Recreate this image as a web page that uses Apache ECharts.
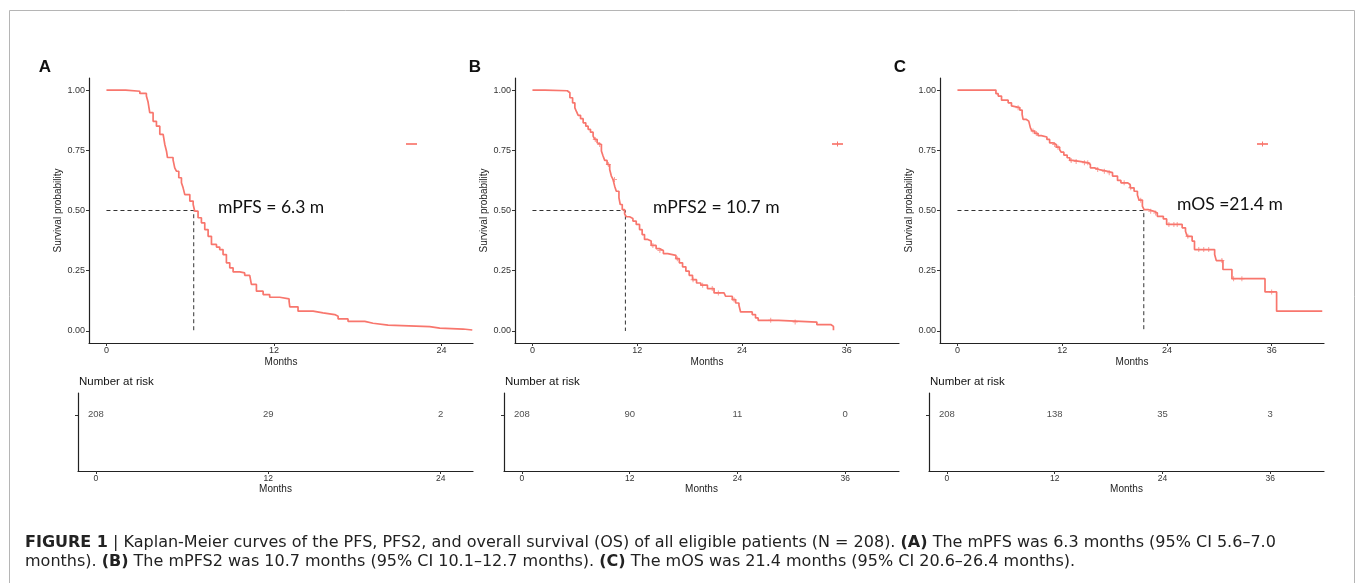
<!DOCTYPE html>
<html>
<head>
<meta charset="utf-8">
<title>Kaplan-Meier</title>
<style>
  html, body { margin: 0; padding: 0; background: #fff; }
  #main { width: 1357px; height: 583px; }
</style>
</head>
<body>
<div id="main"></div>
<script src="https://cdn.jsdelivr.net/npm/echarts@6/dist/echarts.min.js"></script>
<script>
// survival curves: [months, survival probability]
var kmA = [
  [0, 1], [1.38, 0.995], [2.39, 0.986], [2.86, 0.975], [2.98, 0.95], [3.05, 0.925], [3.10, 0.906],
  [3.34, 0.87], [3.58, 0.85], [3.82, 0.816], [4.06, 0.81], [4.18, 0.774], [4.30, 0.746], [4.37, 0.72],
  [4.77, 0.71], [4.89, 0.677], [5.01, 0.663], [5.18, 0.636], [5.37, 0.615], [5.49, 0.594], [5.61, 0.566],
  [5.97, 0.539], [6.21, 0.525], [6.32, 0.497], [6.56, 0.47], [6.80, 0.449], [7.04, 0.421], [7.28, 0.393],
  [7.52, 0.359], [7.88, 0.348], [8.11, 0.338], [8.35, 0.317], [8.59, 0.283], [8.83, 0.262], [9.07, 0.245],
  [9.55, 0.241], [9.90, 0.231], [10.26, 0.227], [10.38, 0.193], [10.74, 0.165], [11.22, 0.151],
  [11.69, 0.140], [12.41, 0.133], [13.08, 0.123], [13.13, 0.10], [13.72, 0.082], [14.80, 0.075],
  [15.51, 0.068], [16.35, 0.061], [16.59, 0.05], [17.30, 0.04], [18.50, 0.032], [19.09, 0.024],
  [20.17, 0.018], [23.15, 0.012], [23.87, 0.008], [25.54, 0.004], [26.2, 0.004]
];
var kmB = [
  [0, 1], [1.44, 0.997], [3.99, 0.989], [4.29, 0.968], [4.60, 0.947], [4.86, 0.926], [5.05, 0.91],
  [5.24, 0.895], [5.51, 0.881], [5.81, 0.864], [6.11, 0.85], [6.38, 0.837], [6.65, 0.825], [6.95, 0.809],
  [7.14, 0.795], [7.41, 0.781], [7.63, 0.774], [7.90, 0.747], [8.09, 0.726], [8.28, 0.708], [8.55, 0.691],
  [8.85, 0.67], [9.04, 0.643], [9.23, 0.629], [9.42, 0.601], [9.61, 0.58], [9.91, 0.553], [10.06, 0.525],
  [10.29, 0.504], [10.56, 0.486], [10.75, 0.474], [11.13, 0.467], [11.51, 0.456], [11.89, 0.442],
  [12.27, 0.421], [12.57, 0.4], [12.84, 0.38], [13.22, 0.373], [13.60, 0.355], [14.17, 0.342],
  [14.55, 0.334], [15.00, 0.321], [15.50, 0.314], [16.44, 0.3], [16.83, 0.283], [17.20, 0.266],
  [17.58, 0.248], [17.96, 0.231], [18.34, 0.213], [18.80, 0.199], [19.29, 0.19], [20.05, 0.176],
  [20.81, 0.158], [21.95, 0.154], [22.14, 0.144], [22.90, 0.13], [23.28, 0.116], [23.66, 0.107],
  [23.85, 0.079], [25.18, 0.068], [25.56, 0.054], [25.86, 0.044], [28.22, 0.037], [32.59, 0.026],
  [34.22, 0.019], [34.49, 0.003]
];
var kmC = [
  [0, 1], [4.41, 0.985], [4.67, 0.975], [5.05, 0.958], [5.81, 0.947], [6.19, 0.934], [6.38, 0.927],
  [7.14, 0.917], [7.41, 0.899], [7.52, 0.878], [7.90, 0.871], [8.17, 0.864], [8.36, 0.843], [8.55, 0.83],
  [8.85, 0.82], [9.23, 0.811], [9.61, 0.805], [10.25, 0.795], [10.56, 0.781], [10.94, 0.774],
  [11.32, 0.763], [11.70, 0.753], [11.89, 0.742], [12.19, 0.73], [12.57, 0.719], [12.87, 0.708],
  [13.22, 0.703], [14.17, 0.698], [15.00, 0.691], [15.23, 0.677], [15.69, 0.67], [16.25, 0.663],
  [17.20, 0.657], [17.77, 0.643], [18.34, 0.625], [18.73, 0.615], [19.48, 0.608], [19.79, 0.594],
  [20.24, 0.58], [20.62, 0.564], [20.81, 0.543], [21.19, 0.518], [21.38, 0.504], [21.84, 0.497],
  [22.52, 0.49], [22.90, 0.476], [23.59, 0.465], [23.97, 0.442], [25.75, 0.428], [26.13, 0.414],
  [26.32, 0.393], [26.89, 0.373], [27.16, 0.338], [29.47, 0.317], [29.66, 0.292], [30.42, 0.255],
  [31.45, 0.217], [35.24, 0.162], [36.57, 0.082], [41.8, 0.082]
];
var censorTimesB = [7.2, 7.7, 8.7, 9.4, 13.8, 14.6, 16.6, 18.4, 19.5, 20.6, 21.3, 23.1, 27.3, 30.1];
var censorTimesC = [6.95, 8.66, 9.04, 11.13, 11.51, 13.03, 13.6, 14.55, 14.93, 16.07, 16.83, 17.39,
  19.1, 19.86, 21.0, 22.14, 22.71, 24.23, 24.8, 25.18, 26.4, 27.65, 28.22, 28.79, 30.3, 31.64, 32.59, 36.0];
var medians = [6.25, 10.65, 21.35];

var riskTimesA = [0, 12, 24];
var riskA = [208, 29, 2];
var riskTimesB = [0, 12, 24, 36];
var riskB = [208, 90, 11, 0];
var riskTimesC = [0, 12, 24, 36];
var riskC = [208, 138, 35, 3];

var monthTicksA = [0, 12, 24];
var monthTicksBC = [0, 12, 24, 36];
var survTicks = [0, 0.25, 0.5, 0.75, 1];

var RED = '#F8766D';
var FONT = 'Liberation Sans, Arial, sans-serif';
var ROW_Y = 0.72;
var PLUS = 'path://M4,0H6V4H10V6H6V10H4V6H0V4H4Z';

function survAt(km, t) {
  var s = km[0][1];
  for (var i = 0; i < km.length; i++) {
    if (km[i][0] <= t) s = km[i][1]; else break;
  }
  return s;
}

var axisLine = { onZero: false, lineStyle: { color: '#222', width: 1.2 } };
var axisTick = { length: 3, lineStyle: { color: '#333', width: 1 } };

function mainX(idx, min, max, ticks) {
  return {
    type: 'value', gridIndex: idx, min: min, max: max,
    name: 'Months', nameLocation: 'middle', nameGap: 14,
    nameTextStyle: { fontFamily: FONT, fontSize: 10, color: '#222' },
    axisLine: axisLine,
    axisTick: Object.assign({ customValues: ticks }, axisTick),
    axisLabel: { customValues: ticks, margin: 3, fontFamily: FONT, fontSize: 9, color: '#333' },
    splitLine: { show: false }
  };
}
function mainY(idx) {
  return {
    type: 'value', gridIndex: idx, min: -0.05, max: 1.05,
    name: 'Survival probability', nameLocation: 'middle', nameGap: 20.5, nameRotate: 90,
    nameTextStyle: { fontFamily: FONT, fontSize: 10, color: '#222' },
    axisLine: axisLine,
    axisTick: Object.assign({ customValues: survTicks }, axisTick),
    axisLabel: {
      customValues: survTicks, margin: 4, fontFamily: FONT, fontSize: 9, color: '#333',
      formatter: function (v) { return v.toFixed(2); }
    },
    splitLine: { show: false }
  };
}
function riskX(idx, min, max, ticks) {
  return {
    type: 'value', gridIndex: idx, min: min, max: max,
    name: 'Months', nameLocation: 'middle', nameGap: 13,
    nameTextStyle: { fontFamily: FONT, fontSize: 10, color: '#222' },
    axisLine: axisLine,
    axisTick: Object.assign({ customValues: ticks }, axisTick),
    axisLabel: { customValues: ticks, margin: 3, fontFamily: FONT, fontSize: 8.5, color: '#333' },
    splitLine: { show: false }
  };
}
function riskY(idx) {
  return {
    type: 'value', gridIndex: idx, min: 0, max: 1,
    axisLine: axisLine,
    axisTick: Object.assign({ customValues: [ROW_Y] }, axisTick),
    axisLabel: { show: false },
    splitLine: { show: false }
  };
}

function kmSeries(idx, km) {
  return {
    type: 'line', xAxisIndex: idx, yAxisIndex: idx, step: 'end', data: km,
    symbol: 'none', lineStyle: { color: RED, width: 1.7 }, silent: true, z: 3
  };
}
function medianSeries(idx, m) {
  return {
    type: 'line', xAxisIndex: idx, yAxisIndex: idx, data: [[0, 0.5], [m, 0.5], [m, 0]],
    symbol: 'none', lineStyle: { color: '#333', width: 1, type: [4, 3] }, silent: true, z: 2
  };
}
function censorSeries(idx, km, times) {
  return {
    type: 'scatter', xAxisIndex: idx, yAxisIndex: idx,
    data: times.map(function (t) { return [t, survAt(km, t)]; }),
    symbol: PLUS, symbolSize: 5, itemStyle: { color: RED, opacity: 0.7 }, silent: true, z: 4
  };
}
function riskSeries(idx, times, counts) {
  return {
    type: 'scatter', xAxisIndex: idx, yAxisIndex: idx,
    data: times.map(function (t, i) { return [t, ROW_Y, counts[i]]; }),
    symbolSize: 1, itemStyle: { color: 'rgba(0,0,0,0)' },
    label: {
      show: true, position: 'inside', fontFamily: FONT, fontSize: 9.5, color: '#222',
      formatter: function (p) { return String(p.value[2]); }
    },
    silent: true
  };
}

function text(x, y, str, size, weight, family, align) {
  return {
    type: 'text', x: x, y: y, silent: true,
    style: {
      text: str, fontSize: size, fontWeight: weight || 'normal', fontFamily: family || FONT,
      fill: '#111', align: align || 'left', verticalAlign: 'middle'
    }
  };
}
function keyLine(x1, x2, y, plus) {
  var els = [{ type: 'line', silent: true, shape: { x1: x1, y1: y, x2: x2, y2: y },
    style: { stroke: RED, lineWidth: 1.7 } }];
  if (plus) {
    var cx = (x1 + x2) / 2;
    els.push({ type: 'line', silent: true, shape: { x1: cx, y1: y - 2.5, x2: cx, y2: y + 2.5 },
      style: { stroke: RED, lineWidth: 1 } });
  }
  return els;
}

var chart = echarts.init(document.getElementById('main'), null, { renderer: 'canvas' });

var caption1 = '{b|FIGURE 1} | Kaplan-Meier curves of the PFS, PFS2, and overall survival (OS) of all eligible patients (N = 208). {b|(A)} The mPFS was 6.3 months (95% CI 5.6–7.0';
var caption2 = 'months). {b|(B)} The mPFS2 was 10.7 months (95% CI 10.1–12.7 months). {b|(C)} The mOS was 21.4 months (95% CI 20.6–26.4 months).';

function captionLine(y, str) {
  return {
    type: 'text', x: 25, y: y, silent: true,
    style: {
      text: str, fontSize: 16, fontFamily: 'DejaVu Sans', fill: '#222', verticalAlign: 'middle',
      rich: { b: { fontWeight: 'bold', fontSize: 16, fontFamily: 'DejaVu Sans', fill: '#222' } }
    }
  };
}

var graphics = [
  { type: 'polyline', silent: true,
    shape: { points: [[9.5, 583], [9.5, 10.5], [1354.5, 10.5], [1354.5, 583]] },
    style: { stroke: '#b5b5b5', lineWidth: 1, fill: null } },
  text(45, 67, 'A', 17, 'bold', null, 'center'),
  text(475, 67, 'B', 17, 'bold', null, 'center'),
  text(900, 67, 'C', 17, 'bold', null, 'center'),
  text(79, 382, 'Number at risk', 11.5),
  text(505, 382, 'Number at risk', 11.5),
  text(930, 382, 'Number at risk', 11.5),
  text(218, 207, 'mPFS = 6.3 m', 17.5, 'normal', 'Lato'),
  text(653, 207, 'mPFS2 = 10.7 m', 17.5, 'normal', 'Lato'),
  text(1177, 204, 'mOS =21.4 m', 17.5, 'normal', 'Lato'),
  captionLine(543, caption1),
  captionLine(562, caption2)
].concat(keyLine(406, 417, 144, false), keyLine(832, 843, 144, true), keyLine(1257, 1268, 144, true));

chart.setOption({
  animation: false,
  backgroundColor: '#fff',
  grid: [
    { left: 89, top: 78, width: 384, height: 265 },
    { left: 515, top: 78, width: 384, height: 265 },
    { left: 940, top: 78, width: 384, height: 265 },
    { left: 78, top: 393, width: 395, height: 78 },
    { left: 504, top: 393, width: 395, height: 78 },
    { left: 929, top: 393, width: 395, height: 78 }
  ],
  xAxis: [
    mainX(0, -1.25, 26.25, monthTicksA),
    mainX(1, -2, 42, monthTicksBC),
    mainX(2, -2, 42, monthTicksBC),
    riskX(3, -1.25, 26.25, monthTicksA),
    riskX(4, -2, 42, monthTicksBC),
    riskX(5, -2, 42, monthTicksBC)
  ],
  yAxis: [mainY(0), mainY(1), mainY(2), riskY(3), riskY(4), riskY(5)],
  series: [
    medianSeries(0, medians[0]), medianSeries(1, medians[1]), medianSeries(2, medians[2]),
    kmSeries(0, kmA), kmSeries(1, kmB), kmSeries(2, kmC),
    censorSeries(1, kmB, censorTimesB), censorSeries(2, kmC, censorTimesC),
    riskSeries(3, riskTimesA, riskA), riskSeries(4, riskTimesB, riskB), riskSeries(5, riskTimesC, riskC)
  ],
  graphic: graphics
});
</script>
</body>
</html>
